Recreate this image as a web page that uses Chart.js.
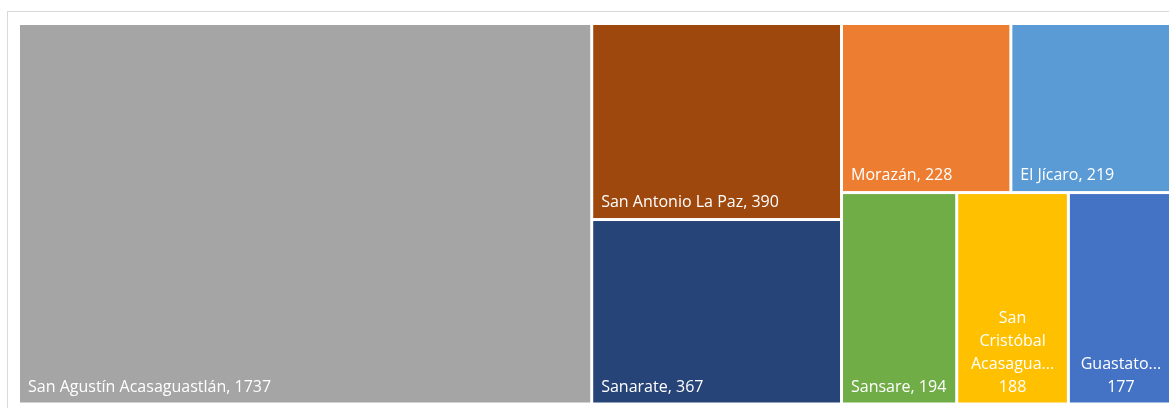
<!DOCTYPE html>
<html>
<head>
<meta charset="utf-8">
<script src="https://cdn.jsdelivr.net/npm/chart.js@4"></script>
<style>
  html, body { margin: 0; padding: 0; background: #fff; overflow: hidden; width: 1169px; height: 408px; }
  #frame { position: absolute; left: 7px; top: 11px; width: 1200px; height: 420px; border: 1px solid #d9d9d9; }
  #treemap { position: absolute; left: 0; top: 0; }
</style>
</head>
<body>
<div id="frame"></div>
<canvas id="treemap" width="1175" height="408"></canvas>
<script>
const municipios = ['San Agustín Acasaguastlán', 'San Antonio La Paz', 'Sanarate', 'Morazán',
    'El Jícaro', 'Sansare', 'San Cristóbal Acasaguastlán', 'Guastatoya'];
const poblacion = [1737, 390, 367, 228, 219, 194, 188, 177];
const colores = ['#A5A5A5', '#9E480E', '#264478', '#ED7D31', '#5B9BD5', '#70AD47', '#FFC000', '#4472C4'];

// squarified layout, in pixel units of the given box
function squarify(vals, w, h) {
    const total = vals.reduce((a, b) => a + b, 0);
    const scale = w * h / total;
    const rects = [];
    let box = { x: 0, y: 0, w: w, h: h };
    let i = 0;
    function worst(row, side) {
        const areas = row.map(v => v * scale);
        const s = areas.reduce((a, b) => a + b, 0);
        const mx = Math.max(...areas), mn = Math.min(...areas);
        return Math.max(side * side * mx / (s * s), (s * s) / (side * side * mn));
    }
    while (i < vals.length) {
        const side = Math.min(box.w, box.h);
        let row = [vals[i]];
        let j = i + 1;
        while (j < vals.length && worst(row.concat(vals[j]), side) <= worst(row, side)) {
            row.push(vals[j]);
            j++;
        }
        const rowArea = row.reduce((a, b) => a + b, 0) * scale;
        if (box.w >= box.h) {
            const cw = rowArea / box.h;
            let yy = box.y;
            row.forEach(v => {
                const ch = v * scale / cw;
                rects.push({ x: box.x, y: yy, w: cw, h: ch });
                yy += ch;
            });
            box.x += cw; box.w -= cw;
        } else {
            const rh = rowArea / box.w;
            let xx = box.x;
            row.forEach(v => {
                const rw = v * scale / rh;
                rects.push({ x: xx, y: box.y, w: rw, h: rh });
                xx += rw;
            });
            box.y += rh; box.h -= rh;
        }
        i = j;
    }
    return rects;
}

function fitWord(ctx, word, maxW) {
    if (ctx.measureText(word).width <= maxW) return word;
    let s = word;
    while (s.length > 1 && ctx.measureText(s + '...').width > maxW) s = s.slice(0, -1);
    return s + '...';
}

const treemapPlugin = {
    id: 'treemapCells',
    beforeDatasetsDraw(chart) {
        const ctx = chart.ctx;
        const area = chart.chartArea;
        const xs = chart.scales.x, ys = chart.scales.y;
        const W = area.right - area.left, H = area.bottom - area.top;
        const cells = squarify(poblacion, W, H);
        const gap = 1.5, pad = 8;
        ctx.save();
        ctx.font = '16px "Open Sans"';
        cells.forEach((c, k) => {
            const x0 = xs.getPixelForValue(c.x / W) + gap;
            const x1 = xs.getPixelForValue((c.x + c.w) / W) - gap;
            const y0 = ys.getPixelForValue(c.y / H) + gap;
            const y1 = ys.getPixelForValue((c.y + c.h) / H) - gap;
            ctx.fillStyle = colores[k];
            ctx.fillRect(x0, y0, x1 - x0, y1 - y0);

            ctx.fillStyle = '#ffffff';
            ctx.textBaseline = 'alphabetic';
            const full = municipios[k] + ', ' + poblacion[k];
            const avail = x1 - x0 - 2 * pad;
            if (ctx.measureText(full).width <= avail) {
                ctx.textAlign = 'left';
                ctx.fillText(full, x0 + pad, y1 - 11);
            } else {
                const words = municipios[k].split(' ').map(wd => fitWord(ctx, wd, avail - 2));
                const lines = [];
                let cur = '';
                words.forEach(wd => {
                    const t = cur ? cur + ' ' + wd : wd;
                    if (cur && ctx.measureText(t).width > avail) { lines.push(cur); cur = wd; }
                    else cur = t;
                });
                if (cur) lines.push(cur);
                lines.push(String(poblacion[k]));
                ctx.textAlign = 'center';
                const cx = (x0 + x1) / 2;
                const lh = 22.7;
                lines.forEach((ln, n) => {
                    ctx.fillText(ln, cx, y1 - 11 - (lines.length - 1 - n) * lh);
                });
            }
        });
        ctx.restore();
    }
};

new Chart(document.getElementById('treemap').getContext('2d'), {
    type: 'scatter',
    data: { datasets: [{ data: [] }] },
    options: {
        responsive: false,
        animation: false,
        layout: { padding: { left: 18.5, top: 23.5, right: 1.5, bottom: 4 } },
        plugins: { legend: { display: false }, tooltip: { enabled: false } },
        scales: {
            x: { type: 'linear', min: 0, max: 1, display: false },
            y: { type: 'linear', min: 0, max: 1, reverse: true, display: false }
        }
    },
    plugins: [treemapPlugin]
});
</script>
</body>
</html>
